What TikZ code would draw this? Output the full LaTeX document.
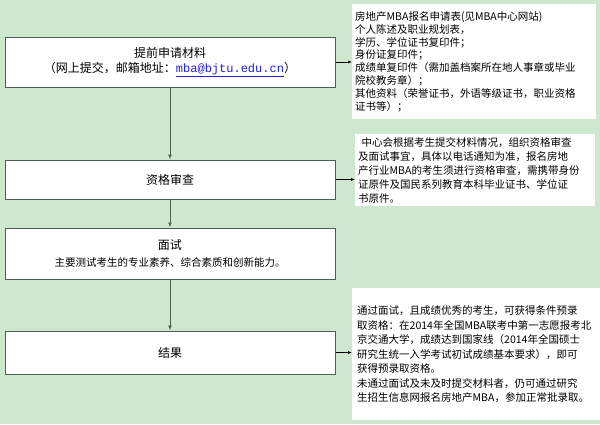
\documentclass[tikz,border=0pt]{standalone}
\usepackage{fontspec}
\setmainfont{Noto Sans CJK SC}
\setmonofont{Liberation Mono}
\usetikzlibrary{positioning, arrows.meta}
\definecolor{bggreen}{HTML}{CDE8CF}
\definecolor{edgegrey}{HTML}{4F5F50}
\definecolor{linkblue}{HTML}{2020E0}

\begin{document}
\begin{tikzpicture}[x=1pt, y=-1pt]
	\tikzstyle{stage} = [draw=edgegrey, line width=1pt, fill=white, minimum width=330pt, inner sep=0pt, align=center, font=\fontsize{12}{15}\selectfont]
	\tikzstyle{note} = [fill=white, inner sep=3pt, align=left, anchor=north west, font=\fontsize{10.5}{12.8}\selectfont]
	\tikzstyle{flow} = [draw=edgegrey, line width=1pt, -{Latex[length=5pt,width=4pt]}]
	\tikzstyle{side} = [draw=black, line width=0.6pt, -{Latex[length=4pt,width=3pt]}]
	\fill[bggreen] (0,0) rectangle (600,424);
	\useasboundingbox (0,0) rectangle (600,424);
	\node[stage, minimum height=50pt] (apply) at (170,62) {提前申请材料\\（网上提交，邮箱地址：{\color{linkblue}\ttfamily\underline{mba@bjtu.edu.cn}}）};
	\node[stage, minimum height=39pt] (check) at (170,179.5) {资格审查};
	\node[stage, minimum height=51pt] (interview) at (170,253.5) {面试\\[2pt]{\fontsize{10.5}{13}\selectfont 主要测试考生的专业素养、综合素质和创新能力。}};
	\node[stage, minimum height=43pt] (result) at (170,352.5) {结果};
	\node[note, text width=238pt, minimum height=115pt] (docs) at (352,4) {房地产MBA报名申请表(见MBA中心网站)\\个人陈述及职业规划表，\\学历、学位证书复印件；\\身份证复印件；\\成绩单复印件（需加盖档案所在地人事章或毕业\\院校教务章）；\\其他资料（荣誉证书，外语等级证书，职业资格\\证书等）；};
	\node[note, text width=234pt, font=\fontsize{10.5}{14}\selectfont] (checknote) at (355,134) {\ 中心会根据考生提交材料情况，组织资格审查\\及面试事宜，具体以电话通知为准，报名房地\\产行业MBA的考生须进行资格审查，需携带身份\\证原件及国民系列教育本科毕业证书、学位证\\书原件。};
	\node[note, text width=238pt, minimum height=132pt, inner sep=5pt, font=\fontsize{10.5}{14.5}\selectfont] (resultnote) at (352,288) {通过面试，且成绩优秀的考生，可获得条件预录\\取资格：在2014年全国MBA联考中第一志愿报考北\\京交通大学，成绩达到国家线（2014年全国硕士\\研究生统一入学考试初试成绩基本要求），即可\\获得预录取资格。\\未通过面试及未及时提交材料者，仍可通过研究\\生招生信息网报名房地产MBA，参加正常批录取。};
	\draw[flow] (apply) -- (check);
	\draw[flow] (check) -- (interview);
	\draw[flow] (interview) -- (result);
	\draw[side] (apply.east) -- (apply.east -| docs.west);
	\draw[side] (check.east) -- (check.east -| checknote.west);
	\draw[side] (result.east) -- (result.east -| resultnote.west);
\end{tikzpicture}
\end{document}
